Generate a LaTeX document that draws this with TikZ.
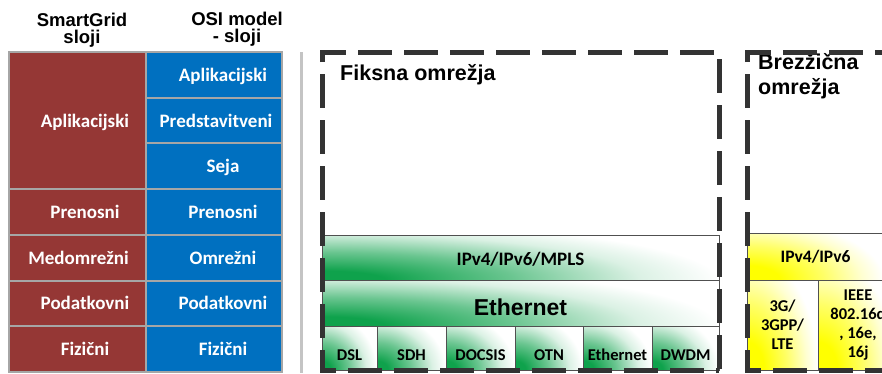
\documentclass[tikz,border=0pt]{standalone}
\usepackage{fontspec}
\setmainfont{Liberation Sans}
\newfontfamily\calib{Carlito}
\usetikzlibrary{calc}

\definecolor{sgred}{HTML}{953735}
\definecolor{osiblue}{HTML}{0070C0}
\definecolor{cellgray}{HTML}{A6A6A6}
\definecolor{sepgray}{HTML}{C4C4C4}
\definecolor{dashgray}{HTML}{333333}
\definecolor{bgreen}{HTML}{0FA24C}
\definecolor{byellow}{HTML}{FFFF00}
\definecolor{bandline}{HTML}{505050}

% glows that spread from the lower left corner of a box
\pgfdeclareradialshading{greenglow}{\pgfpoint{0bp}{0bp}}{color(0bp)=(bgreen); color(4bp)=(bgreen); color(12bp)=(bgreen!62); color(20bp)=(bgreen!15); color(25bp)=(white); color(50bp)=(white)}
\pgfdeclareradialshading{yellowglow}{\pgfpoint{0bp}{0bp}}{color(0bp)=(byellow); color(6bp)=(byellow); color(14bp)=(byellow!60); color(21bp)=(byellow!18); color(25bp)=(white); color(50bp)=(white)}

\begin{document}
\begin{tikzpicture}[x=1pt,y=-1pt,
  hdr/.style={font=\bfseries\fontsize{18.5}{17}\selectfont, align=center, inner sep=0},
  boxtitle/.style={font=\bfseries\fontsize{21.5}{25}\selectfont, align=left, inner sep=0},
  tblcell/.style={draw=cellgray, line width=2pt, inner sep=0},
  sgcell/.style={tblcell, fill=sgred, minimum width=137},
  osicell/.style={tblcell, fill=osiblue, minimum width=136},
  tbltext/.style={font=\calib\bfseries\fontsize{19}{22}\selectfont, text=white, anchor=base, inner sep=0},
  glow/.style={path picture={
      \shade[shading=#1]
        let \p1=(path picture bounding box.south west),
            \p2=(path picture bounding box.north east) in
        (\p1) ellipse [x radius={1.0*(\x2-\x1)}, y radius={1.3*(\y2-\y1)}];}},
  band/.style={draw=bandline, line width=0.8pt, inner sep=0, fill=white},
  gband/.style={band, glow=greenglow},
  yband/.style={band, glow=yellowglow},
  bandtext/.style={font=\calib\bfseries\fontsize{19}{22}\selectfont},
  celltext/.style={font=\calib\bfseries\fontsize{16.5}{19}\selectfont},
  lowcell/.style={minimum height=44, text height=24pt, text depth=0pt},
  dashbox/.style={draw=dashgray, line width=5pt, dash pattern=on 34pt off 12pt},
  sepline/.style={draw=sepgray, line width=3pt}
]
\useasboundingbox (0,0) rectangle (882,373);
\fill[white] (0,0) rectangle (882,373);
\clip (0,0) rectangle (882,373);

% ---- column headers
\node[hdr] (hsg) at (82,30.5) {SmartGrid\\sloji};
\node[hdr] (hosi) at (237,29.5) {OSI model\\- sloji};

% ---- SmartGrid layers
\node[sgcell, minimum height=137.1] (sgA) at (77.5,120.55) {};
\node[sgcell, minimum height=45.7] (sgT) at (77.5,212) {};
\node[sgcell, minimum height=45.7] (sgN) at (77.5,257.75) {};
\node[sgcell, minimum height=45.7] (sgD) at (77.5,303.45) {};
\node[sgcell, minimum height=45.7] (sgF) at (77.5,349.15) {};

% ---- OSI layers
\node[osicell, minimum height=45.7] (oA) at (214,74.85) {};
\node[osicell, minimum height=45.7] (oP) at (214,120.55) {};
\node[osicell, minimum height=45.7] (oS) at (214,166.25) {};
\node[osicell, minimum height=45.7] (oT) at (214,212) {};
\node[osicell, minimum height=45.7] (oN) at (214,257.75) {};
\node[osicell, minimum height=45.7] (oD) at (214,303.45) {};
\node[osicell, minimum height=45.7] (oF) at (214,349.15) {};

\node[tbltext] at ([xshift=7.5pt,yshift=-6.5pt]sgA.center) {Aplikacijski};
\node[tbltext] at ([xshift=7.5pt,yshift=-6.5pt]sgT.center) {Prenosni};
\node[tbltext] at ([xshift=1pt,yshift=-6.5pt]sgN.center) {Medomrežni};
\node[tbltext] at ([xshift=7.5pt,yshift=-6.5pt]sgD.center) {Podatkovni};
\node[tbltext] at ([xshift=7.5pt,yshift=-6.5pt]sgF.center) {Fizični};

\node[tbltext] at ([xshift=9pt,yshift=-6.5pt]oA.center) {Aplikacijski};
\node[tbltext] at ([xshift=2pt,yshift=-6.5pt]oP.center) {Predstavitveni};
\node[tbltext] at ([xshift=9pt,yshift=-6.5pt]oS.center) {Seja};
\node[tbltext] at ([xshift=9pt,yshift=-6.5pt]oT.center) {Prenosni};
\node[tbltext] at ([xshift=9pt,yshift=-6.5pt]oN.center) {Omrežni};
\node[tbltext] at ([xshift=9pt,yshift=-6.5pt]oD.center) {Podatkovni};
\node[tbltext] at ([xshift=9pt,yshift=-6.5pt]oF.center) {Fizični};

% ---- separator
\coordinate (sepTop) at (301,52);
\coordinate (sepBot) at (301,373);
\draw[sepline] (sepTop) -- (sepBot);

% ---- fixed networks
\node[gband, bandtext, minimum width=397, minimum height=45, text height=15pt, text depth=0pt] (ipmpls) at (520.5,257.5) {IPv4/IPv6/MPLS};
\node[gband, font=\bfseries\fontsize{23}{26}\selectfont, minimum width=397, minimum height=46, text height=24pt, text depth=0pt] (eth) at (520.5,303) {Ethernet};
\node[gband, celltext, lowcell, minimum width=55] (dsl) at (349.5,348) {DSL};
\node[gband, celltext, lowcell, minimum width=69] (sdh) at (411.5,348) {SDH};
\node[gband, celltext, lowcell, minimum width=69] (docsis) at (480.5,348) {DOCSIS};
\node[gband, celltext, lowcell, minimum width=68] (otn) at (549,348) {OTN};
\node[gband, celltext, lowcell, minimum width=69] (ethl) at (617.5,348) {Ethernet};
\node[gband, celltext, lowcell, minimum width=67] (dwdm) at (685.5,348) {DWDM};

\node[boxtitle, anchor=base west] (fixtitle) at (340,80) {Fiksna omrežja};

% ---- wireless networks
\node[yband, font=\calib\bfseries\fontsize{17.5}{20}\selectfont, minimum width=137, minimum height=47, text height=11pt, text depth=0pt] (ipv) at (815.5,256.5) {IPv4/IPv6};
\node[yband, celltext, align=center, minimum width=71, minimum height=90] (lte) at (782.5,325) {3G/\\3GPP/\\LTE};
\node[yband, celltext, align=center, minimum width=80, minimum height=90] (wimax) at (858,325) {IEEE\\802.16d\\, 16e,\\16j};

\node[boxtitle, anchor=base west] (wltitle) at (758,94) {Brezžična\\omrežja};

% ---- dashed frames
\draw[dashbox] (322,62) -- (322,52) -- (719,52) -- (719,370);
\draw[dashbox, dash phase=34pt] (322,62) -- (322,370) -- (719,370);
\draw[dashbox] (747,62) -- (747,52) -- (900,52);
\draw[dashbox, dash phase=34pt] (747,62) -- (747,370) -- (900,370);
\end{tikzpicture}
\end{document}
